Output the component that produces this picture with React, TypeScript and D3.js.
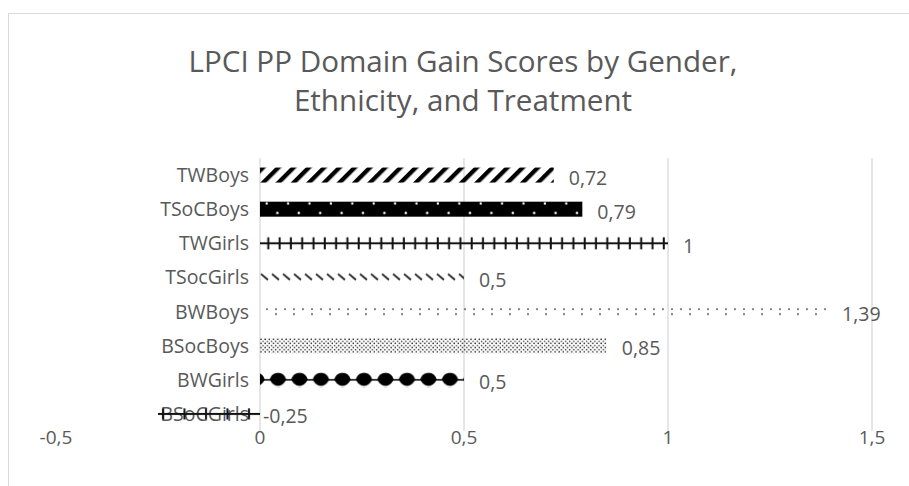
import React from 'react';
import * as d3 from 'd3';

// chart data
const categories = ['TWBoys', 'TSoCBoys', 'TWGirls', 'TSocGirls', 'BWBoys', 'BSocBoys', 'BWGirls', 'BSoCGirls'];
const values = [0.72, 0.79, 1, 0.5, 1.39, 0.85, 0.5, -0.25];
const valueLabels = ['0,72', '0,79', '1', '0,5', '1,39', '0,85', '0,5', '-0,25'];
const xTicks = [-0.5, 0, 0.5, 1, 1.5];
const xTickLabels = ['-0,5', '0', '0,5', '1', '1,5'];
const titleLines = ['LPCI PP Domain Gain Scores by Gender,', 'Ethnicity, and Treatment'];

const W = 909;
const H = 486;
const FONT = '"Open Sans", "Noto Sans", sans-serif';
const TEXT = '#595959';
const GRID = '#d9d9d9';

const x = d3.scaleLinear().domain([-0.5, 1.5]).range([56, 872]);
const y = d3.scaleBand<string>().domain(categories).range([158, 431]).paddingInner(0.56).paddingOuter(0.28);

// sphere-ish blob used by the BWGirls fill
function blob(cx: number, mid: number) {
  const r = 8.3;
  return `M${cx - r},${mid} C${cx - r + 1},${mid - 3.5} ${cx - 5},${mid - 7} ${cx},${mid - 7} ` +
    `C${cx + 5},${mid - 7} ${cx + r - 1},${mid - 3.5} ${cx + r},${mid} ` +
    `C${cx + 6},${mid + 3.5} ${cx + 4},${mid + 6} ${cx},${mid + 6} ` +
    `C${cx - 4},${mid + 6} ${cx - 6},${mid + 3.5} ${cx - r},${mid} Z`;
}

// one pattern per bar, origin at the bar's top-left corner
function renderPattern(i: number, id: string, bx: number, by: number, h: number) {
  const mid = h / 2;
  switch (i) {
    case 0: // wide upward diagonal
      return (
        <pattern id={id} key={id} patternUnits="userSpaceOnUse" width={10.8} height={10.8}
          patternTransform={`translate(${bx},${by}) rotate(45)`}>
          <rect x={0} y={0} width={4.3} height={10.8} fill="#000" />
        </pattern>
      );
    case 1: // black with white dots
      return (
        <pattern id={id} key={id} patternUnits="userSpaceOnUse" x={bx} y={by} width={21.4} height={19}>
          <rect width={21.4} height={19} fill="#000" />
          <circle cx={6.7} cy={1.8} r={1.2} fill="#fff" />
          <circle cx={17.4} cy={11.2} r={1.2} fill="#fff" />
        </pattern>
      );
    case 2: // line with dense ticks
      return (
        <pattern id={id} key={id} patternUnits="userSpaceOnUse" x={bx} y={by} width={11.3} height={h}>
          <rect x={0} y={mid - 1} width={11.3} height={2} fill="#111" />
          <rect x={7.3} y={mid - 6} width={2} height={12} fill="#111" />
        </pattern>
      );
    case 3: // short downward dashes
      return (
        <pattern id={id} key={id} patternUnits="userSpaceOnUse" x={bx} y={by} width={11} height={h}>
          <line x1={1} y1={mid - 3.5} x2={8} y2={mid + 2.5} stroke="#333" strokeWidth={2} />
        </pattern>
      );
    case 4: // sparse dots
      return (
        <pattern id={id} key={id} patternUnits="userSpaceOnUse" x={bx} y={by} width={18} height={h}>
          <circle cx={7} cy={mid - 2.5} r={0.9} fill="#222" />
          <circle cx={16} cy={mid - 2.5} r={0.9} fill="#222" />
          <circle cx={16} cy={mid + 2.5} r={0.9} fill="#222" />
        </pattern>
      );
    case 5: // dense dots
      return (
        <pattern id={id} key={id} patternUnits="userSpaceOnUse" x={bx} y={by} width={4.2} height={4.2}>
          <circle cx={1} cy={1} r={0.8} fill="#222" />
          <circle cx={3.1} cy={3.1} r={0.8} fill="#444" />
        </pattern>
      );
    case 6: // spheres
      return (
        <pattern id={id} key={id} patternUnits="userSpaceOnUse" x={bx} y={by} width={21.5} height={h}>
          <rect x={0} y={mid - 0.8} width={21.5} height={1.6} fill="#111" />
          <path d={blob(18, mid)} fill="#000" />
          <path d={blob(18 - 21.5, mid)} fill="#000" />
        </pattern>
      );
    default: // line with sparse ticks
      return (
        <pattern id={id} key={id} patternUnits="userSpaceOnUse" x={bx} y={by} width={21.5} height={h}>
          <rect x={0} y={mid - 1} width={21.5} height={2} fill="#111" />
          <rect x={4} y={mid - 5.5} width={2} height={11} fill="#111" />
        </pattern>
      );
  }
}

export default function App() {
  const bw = y.bandwidth();
  const bars = categories.map((c, i) => {
    const v = values[i];
    const bx = x(Math.min(0, v));
    const by = y(c) as number;
    return { c, i, v, bx, by, w: Math.abs(x(v) - x(0)) };
  });
  const [plotTop, plotBottom] = y.range();

  return (
    <svg width={W} height={H} style={{ position: 'absolute', left: 0, top: 0, background: '#fff' }}
      fontFamily={FONT}>
      <defs>{bars.map((b) => renderPattern(b.i, `pat${b.i}`, b.bx, b.by, bw))}</defs>

      {/* chart area border */}
      <rect x={8.5} y={13.5} width={1000} height={1000} fill="#fff" stroke={GRID} />

      {/* title */}
      {titleLines.map((t, i) => (
        <text key={t} x={463} y={72 + i * 39} textAnchor="middle" fontSize={29.6} fill={TEXT}>{t}</text>
      ))}

      {/* gridlines */}
      {xTicks.filter((t) => t !== -0.5).map((t) => (
        <line key={t} x1={x(t)} x2={x(t)} y1={plotTop} y2={plotBottom} stroke={GRID} strokeWidth={1.3} />
      ))}

      {/* category labels */}
      {bars.map((b) => (
        <text key={b.c} x={249} y={b.by + bw / 2 + 7} textAnchor="end" fontSize={19.5} fill={TEXT}>{b.c}</text>
      ))}

      {/* bars */}
      {bars.map((b) => (
        <rect key={b.c} x={b.bx} y={b.by} width={b.w} height={bw} fill={`url(#pat${b.i})`} />
      ))}

      {/* value labels */}
      {bars.map((b) => (
        <text key={b.c} x={x(Math.max(0, b.v)) + (b.v < 0 ? 3 : 15)} y={b.by + bw / 2 + 9.5}
          fontSize={19.5} fill={TEXT}>{valueLabels[b.i]}</text>
      ))}

      {/* x axis tick labels */}
      {xTicks.map((t, i) => (
        <text key={t} x={x(t)} y={444} textAnchor="middle" fontSize={19} fill={TEXT}>{xTickLabels[i]}</text>
      ))}
    </svg>
  );
}
